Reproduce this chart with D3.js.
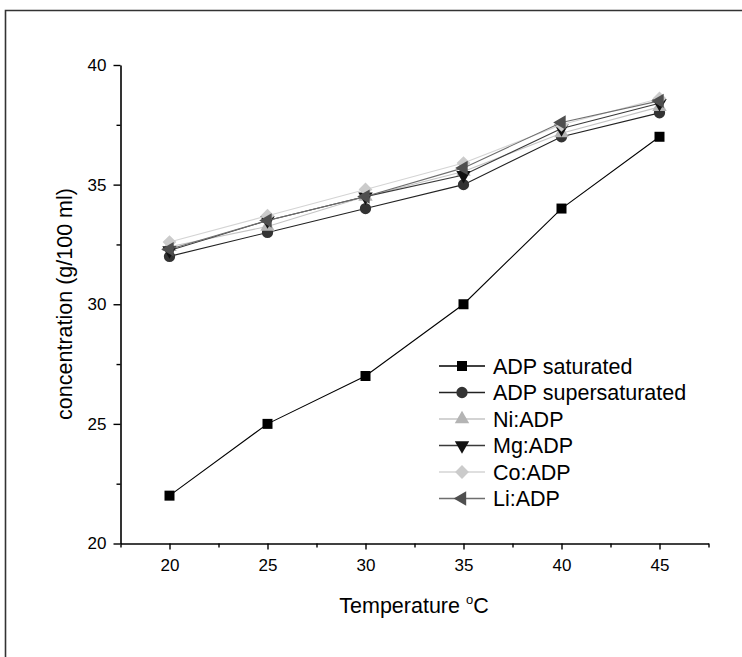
<!DOCTYPE html>
<html>
<head>
<meta charset="utf-8">
<script src="https://cdn.jsdelivr.net/npm/d3@7"></script>
<style>
  body { margin: 0; background: #fff; }
  text { font-family: "Liberation Sans", Arial, sans-serif; }
</style>
</head>
<body>
<div id="chart"></div>
<script>
// temperatures (x) and concentrations (g/100 ml)
const temps = [20, 25, 30, 35, 40, 45];
const seriesNames = ["ADP saturated", "ADP supersaturated", "Ni:ADP", "Mg:ADP", "Co:ADP", "Li:ADP"];
const adpSat = [22, 25, 27, 30, 34, 37];
const adpSuper = [32, 33, 34, 35, 37, 38];
const niAdp = [32.4, 33.25, 34.5, 35.55, 37.15, 38.25];
const mgAdp = [32.25, 33.5, 34.5, 35.4, 37.35, 38.4];
const coAdp = [32.6, 33.7, 34.8, 35.9, 37.5, 38.6];
const liAdp = [32.3, 33.5, 34.5, 35.7, 37.6, 38.5];
const xMajor = [20, 25, 30, 35, 40, 45];
const xMinor = [17.5, 22.5, 27.5, 32.5, 37.5, 42.5, 47.5];
const yMajor = [20, 25, 30, 35, 40];
const yMinor = [22.5, 27.5, 32.5, 37.5];

const W = 742, H = 657;
const svg = d3.select("#chart").append("svg")
    .attr("width", W)
    .attr("height", H);

// outer frame (only top and left edges visible)
svg.append("path")
    .attr("d", "M5.5,657 V10.5 H742")
    .attr("fill", "none")
    .attr("stroke", "#333")
    .attr("stroke-width", 1.6);

const x = d3.scaleLinear().domain([17.5, 47.5]).range([120.5, 708.5]);
const y = d3.scaleLinear().domain([20, 40]).range([543.5, 65]);

// axes
svg.append("g")
    .attr("transform", "translate(120.5,0)")
    .call(d3.axisLeft(y).tickValues(yMajor).tickSize(7).tickSizeOuter(0).tickPadding(7));
svg.append("g")
    .attr("transform", "translate(120.5,0)")
    .call(d3.axisLeft(y).tickValues(yMinor).tickSize(4).tickFormat(""))
    .select(".domain").remove();

svg.append("g")
    .attr("transform", "translate(0,543.5)")
    .call(d3.axisBottom(x).tickValues(xMajor).tickSize(6).tickSizeOuter(0).tickPadding(9));
svg.append("g")
    .attr("transform", "translate(0,543.5)")
    .call(d3.axisBottom(x).tickValues(xMinor).tickSize(4).tickFormat(""))
    .select(".domain").remove();

svg.selectAll(".domain").attr("stroke", "#000").attr("stroke-width", 1.6);
svg.selectAll(".tick line").attr("stroke", "#000").attr("stroke-width", 1.4);
svg.selectAll(".tick text")
    .attr("fill", "#000")
    .style("font-size", "17px")
    .style("font-family", "'Liberation Sans', Arial, sans-serif");

// axis titles
const xt = svg.append("text")
    .attr("x", 414)
    .attr("y", 613)
    .attr("text-anchor", "middle")
    .style("font-size", "21.5px");
xt.append("tspan").text("Temperature ");
xt.append("tspan").attr("dy", -9).style("font-size", "13px").text("o");
xt.append("tspan").attr("dy", 9).text("C");

svg.append("text")
    .attr("transform", "translate(72,304) rotate(-90)")
    .attr("text-anchor", "middle")
    .style("font-size", "21.5px")
    .text("concentration (g/100 ml)");

// series styles
const seriesData = [adpSat, adpSuper, niAdp, mgAdp, coAdp, liAdp];
const lineColors = ["#000", "#222", "#c4c4c4", "#3a3a3a", "#d4d4d4", "#6e6e6e"];
const markColors = ["#000", "#333", "#b4b4b4", "#111", "#cbcbcb", "#4f4f4f"];
const symbols = [
    { type: d3.symbolSquare, size: 100, rot: 0 },
    { type: d3.symbolCircle, size: 100, rot: 0 },
    { type: d3.symbolTriangle, size: 90, rot: 0 },
    { type: d3.symbolTriangle, size: 90, rot: 180 },
    { type: d3.symbolSquare, size: 95, rot: 45 },
    { type: d3.symbolTriangle, size: 90, rot: -90 }
];

const line = d3.line().x((d, i) => x(temps[i])).y(d => y(d));

seriesData.forEach((vals, s) => {
    const g = svg.append("g");
    g.append("path")
        .datum(vals)
        .attr("d", line)
        .attr("fill", "none")
        .attr("stroke", lineColors[s])
        .attr("stroke-width", 1.1);
    g.selectAll("path.m")
        .data(vals)
        .enter()
        .append("path")
        .attr("class", "m")
        .attr("d", d3.symbol().type(symbols[s].type).size(symbols[s].size))
        .attr("transform", (d, i) => `translate(${x(temps[i])},${y(d)}) rotate(${symbols[s].rot})`)
        .attr("fill", markColors[s]);
});

// legend
const legend = svg.append("g").attr("transform", "translate(439,366)");
seriesNames.forEach((name, s) => {
    const row = legend.append("g").attr("transform", `translate(0,${s * 26.5})`);
    row.append("line")
        .attr("x1", 0).attr("x2", 46)
        .attr("y1", 0).attr("y2", 0)
        .attr("stroke", lineColors[s])
        .attr("stroke-width", 1.3);
    row.append("path")
        .attr("d", d3.symbol().type(symbols[s].type).size(symbols[s].size))
        .attr("transform", `translate(23,0) rotate(${symbols[s].rot})`)
        .attr("fill", markColors[s]);
    row.append("text")
        .attr("x", 54)
        .attr("y", 0)
        .attr("dy", "0.35em")
        .style("font-size", "21.5px")
        .attr("fill", "#000")
        .text(name);
});
</script>
</body>
</html>
